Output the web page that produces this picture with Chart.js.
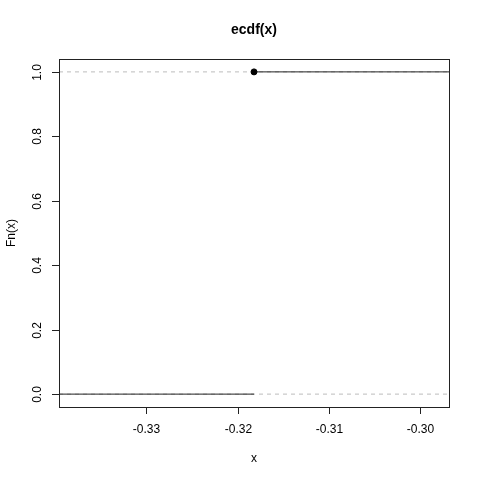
<!DOCTYPE html>
<html>
<head>
<meta charset="utf-8">
<script src="https://cdn.jsdelivr.net/npm/chart.js@4/dist/chart.umd.min.js"></script>
<style>
  html, body { margin: 0; padding: 0; background: #fff; }
  #wrap { width: 480px; height: 480px; }
</style>
</head>
<body>
<div id="wrap"><canvas id="chartEcdf" width="480" height="480"></canvas></div>
<script>
// ecdf of a single observation
var knot = -0.3182;
var xRange = [-0.3396, -0.2968];
var yRange = [-0.04, 1.04];
var xTicks = [-0.33, -0.32, -0.31, -0.30];
var xTickLabels = ["-0.33", "-0.32", "-0.31", "-0.30"];
var yTicks = [0, 0.2, 0.4, 0.6, 0.8, 1.0];
var yTickLabels = ["0.0", "0.2", "0.4", "0.6", "0.8", "1.0"];
var levels = [0, 1];

var FONT = "'Liberation Sans', Arial, Helvetica, sans-serif";

// R style axes, box and titles
var rAxes = {
    id: "rAxes",
    afterDraw: function (chart) {
        var c = chart.ctx;
        var a = chart.chartArea;
        var sx = chart.scales.x;
        var sy = chart.scales.y;
        c.save();
        c.strokeStyle = "#222";
        c.lineWidth = 1;
        c.strokeRect(Math.round(a.left) + 0.5, Math.round(a.top) + 0.5,
            Math.round(a.right - a.left), Math.round(a.bottom - a.top));

        c.fillStyle = "#000";
        c.font = "12px " + FONT;
        // x ticks
        c.textAlign = "center";
        c.textBaseline = "top";
        xTicks.forEach(function (v, i) {
            var px = Math.round(sx.getPixelForValue(v)) + 0.5;
            c.beginPath();
            c.moveTo(px, a.bottom);
            c.lineTo(px, a.bottom + 7);
            c.stroke();
            c.fillText(xTickLabels[i], px, a.bottom + 17);
        });
        // y ticks, rotated labels
        yTicks.forEach(function (v, i) {
            var py = Math.round(sy.getPixelForValue(v)) + 0.5;
            c.beginPath();
            c.moveTo(a.left, py);
            c.lineTo(a.left - 7, py);
            c.stroke();
            c.save();
            c.translate(a.left - 21, py);
            c.rotate(-Math.PI / 2);
            c.textAlign = "center";
            c.textBaseline = "middle";
            c.fillText(yTickLabels[i], 0, 0);
            c.restore();
        });

        // titles
        var cx = (a.left + a.right) / 2;
        c.textAlign = "center";
        c.textBaseline = "middle";
        c.font = "bold 14px " + FONT;
        c.fillText("ecdf(x)", cx, 30);
        c.font = "12px " + FONT;
        c.fillText("x", cx, 459);
        c.save();
        c.translate(12, (a.top + a.bottom) / 2);
        c.rotate(-Math.PI / 2);
        c.fillText("Fn(x)", 0, 0);
        c.restore();
        c.restore();
    }
};

var ctx = document.getElementById("chartEcdf").getContext("2d");

const chartEcdf = new Chart(ctx, {
    type: "scatter",
    data: {
    datasets: [
        {
        label: "point",
        data: [{ x: knot, y: 1 }],
        backgroundColor: "#000",
        borderColor: "#000",
        borderWidth: 1,
        pointRadius: 3,
        showLine: false,
        },
        {
        label: "left step",
        data: [{ x: xRange[0], y: levels[0] }, { x: knot, y: levels[0] }],
        borderColor: "#222",
        borderWidth: 1,
        pointRadius: 0,
        showLine: true,
        },
        {
        label: "right step",
        data: [{ x: knot, y: levels[1] }, { x: xRange[1], y: levels[1] }],
        borderColor: "#222",
        borderWidth: 1,
        pointRadius: 0,
        showLine: true,
        },
        {
        label: "h0",
        data: [{ x: xRange[0], y: levels[0] }, { x: xRange[1], y: levels[0] }],
        borderColor: "#bdbdbd",
        borderWidth: 1,
        borderDash: [4, 4],
        pointRadius: 0,
        showLine: true,
        },
        {
        label: "h1",
        data: [{ x: xRange[0], y: levels[1] }, { x: xRange[1], y: levels[1] }],
        borderColor: "#bdbdbd",
        borderWidth: 1,
        borderDash: [4, 4],
        pointRadius: 0,
        showLine: true,
        },
    ],
    },
    options: {
    responsive: false,
    animation: false,
    layout: {
        padding: { left: 59, right: 31, top: 59, bottom: 73 },
    },
    plugins: {
        legend: { display: false },
        tooltip: { enabled: false },
    },
    scales: {
        x: {
        type: "linear",
        display: false,
        min: xRange[0],
        max: xRange[1],
        },
        y: {
        type: "linear",
        display: false,
        min: yRange[0],
        max: yRange[1],
        },
    },
    },
    plugins: [rAxes],
});
</script>
</body>
</html>
